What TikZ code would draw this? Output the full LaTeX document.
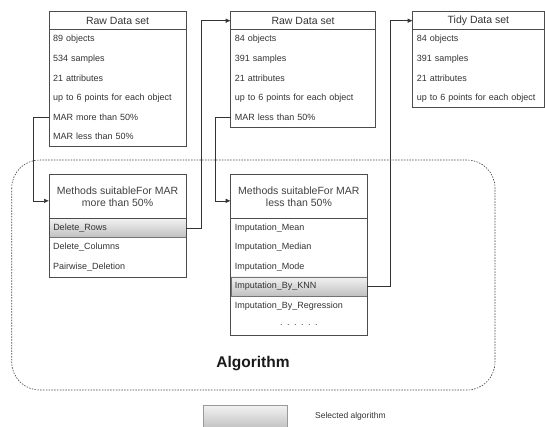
\documentclass[tikz,border=0pt]{standalone}
\usepackage{fontspec}
\usetikzlibrary{arrows.meta}
\setmainfont{Liberation Sans}
\begin{document}
\begin{tikzpicture}[x=1pt,y=-1pt,
  line/.style={draw=black!70, line width=0.6pt},
  conn/.style={draw=black!80, line width=0.6pt},
  arr/.style={conn, -{Latex[length=5pt,width=4.5pt]}},
  hdr/.style={anchor=north west, inner sep=0pt, minimum height=17.6pt, minimum width=#1,
     font=\fontsize{10.5}{12}\selectfont, text=black!80},
  mhdr/.style={anchor=north west, inner sep=0pt, minimum height=43.7pt, minimum width=#1,
     align=center, font=\fontsize{10.5}{12}\selectfont, text=black!75},
  row/.style={anchor=north west, inner xsep=4pt, inner ysep=0pt, minimum height=19.5pt,
     text width=#1, align=left, font=\fontsize{9}{10}\selectfont, text=black!80},
  sel/.style={top color=gray!10, bottom color=gray!50, draw=black!55, line width=0.5pt},
  grp/.style={draw=black!75, line width=0.6pt, dash pattern=on 1.5pt off 1.3pt, rounded corners=28pt}
]
\useasboundingbox (0,0) rectangle (545,427);

% group frame
\draw[grp] (11.7,160) rectangle (495,390);

% Box 1
\node[hdr=136.7pt] (b1h) at (49,11.7) {Raw Data set};
\foreach \t [count=\i] in {89 objects, 534 samples, 21 attributes, up to 6 points for each object, MAR more than 50\%, MAR less than 50\%}
  \node[row=128.7pt] (b1r\i) at (49,{29.3+(\i-1)*19.5}) {\t};
\draw[line] (b1h.north west) rectangle (b1r6.south east);
\draw[line] (b1h.south west) -- (b1h.south east);

% Box 2
\node[hdr=144.3pt] (b2h) at (230.7,11.7) {Raw Data set};
\foreach \t [count=\i] in {84 objects, 391 samples, 21 attributes, up to 6 points for each object, MAR less than 50\%}
  \node[row=136.3pt] (b2r\i) at (230.7,{29.3+(\i-1)*19.5}) {\t};
\draw[line] (b2h.north west) rectangle (b2r5.south east);
\draw[line] (b2h.south west) -- (b2h.south east);

% Box 3
\node[hdr=131pt] (b3h) at (412.7,11.7) {Tidy Data set};
\foreach \t [count=\i] in {84 objects, 391 samples, 21 attributes, up to 6 points for each object}
  \node[row=123pt] (b3r\i) at (412.7,{29.3+(\i-1)*19.5}) {\t};
\draw[line] (b3h.north west) rectangle (b3r4.south east);
\draw[line] (b3h.south west) -- (b3h.south east);

% Methods 1
\node[mhdr=136.7pt] (m1h) at (49,174.3) {Methods suitableFor MAR\\more than 50\%};
\node[row=128.7pt, sel] (m1r1) at (49,218) {Delete\_Rows};
\node[row=128.7pt] (m1r2) at (49,237.5) {Delete\_Columns};
\node[row=128.7pt] (m1r3) at (49,257) {Pairwise\_Deletion};
\draw[line] (m1h.north west) rectangle (m1r3.south east);
\draw[line] (m1h.south west) -- (m1h.south east);

% Methods 2
\node[mhdr=136pt] (m2h) at (230.7,174.3) {Methods suitableFor MAR\\less than 50\%};
\node[row=128pt] (m2r1) at (230.7,218) {Imputation\_Mean};
\node[row=128pt] (m2r2) at (230.7,237.5) {Imputation\_Median};
\node[row=128pt] (m2r3) at (230.7,257) {Imputation\_Mode};
\node[row=128pt, sel] (m2r4) at (230.7,276.5) {Imputation\_By\_KNN};
\node[row=128pt] (m2r5) at (230.7,296) {Imputation\_By\_Regression};
\node[row=128pt, align=center] (m2r6) at (230.7,315.5) {. . . . . .};
\draw[line] (m2h.north west) rectangle (m2r6.south east);
\draw[line] (m2h.south west) -- (m2h.south east);

% connectors
\draw[arr] (b1r5.west) -- ++(-16,0) |- ([yshift=-4.5pt]m1h.west);
\draw[arr] (m1r1.east) -- ++(15.5,0) |- (b2h.west);
\draw[arr] (b2r5.west) -- ++(-15.7,0) |- ([yshift=-4.5pt]m2h.west);
\draw[arr] (m2r4.east) -- ++(23.5,0) |- (b3h.west);

% labels
\node[font=\bfseries\fontsize{15.5}{18}\selectfont, text=black!90] (alg) at (253,364) {Algorithm};
\node[sel, draw=black!40, minimum width=84pt, minimum height=24pt, anchor=north west, inner sep=0pt] (leg) at (203,405) {};
\node[anchor=west, inner sep=0pt, font=\fontsize{8.5}{10}\selectfont, text=black!80] (legt) at (315,416) {Selected algorithm};
\end{tikzpicture}
\end{document}
